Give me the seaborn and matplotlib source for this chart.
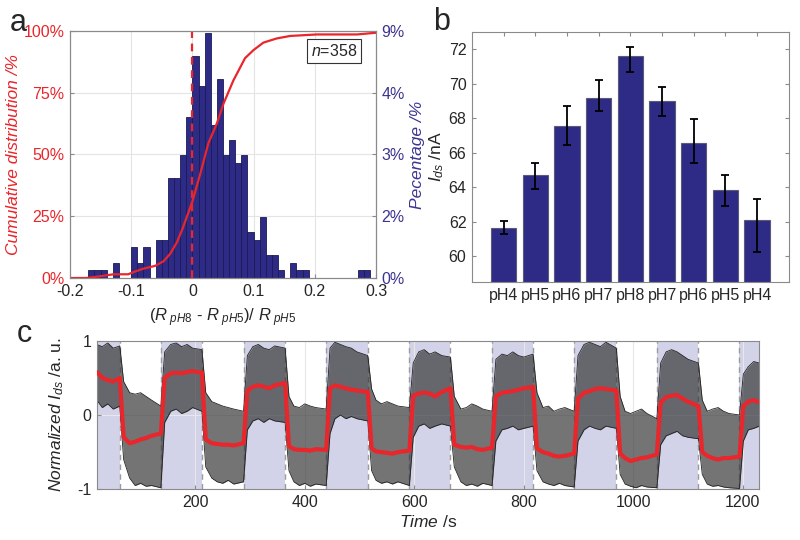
import numpy as np
import pandas as pd
import matplotlib
matplotlib.use("Agg")
import matplotlib.pyplot as plt
import seaborn as sns

# ---- panel a: histogram of (R_pH8 - R_pH5)/R_pH5 ----
n_total = 358
bin_left = np.linspace(-0.2, 0.29, 50)
counts = [0, 0, 0, 1, 1, 1, 0, 2, 0, 0,
          4, 2, 4, 0, 5, 5, 13, 13, 16, 21,
          29, 25, 32, 20, 26, 16, 18, 15, 16, 6,
          5, 8, 3, 3, 1, 0, 2, 1, 1, 0,
          0, 0, 0, 0, 0, 0, 0, 1, 1, 0]
cdf_x = [-0.2, -0.173, -0.151, -0.129, -0.105, -0.096, -0.08, -0.061, -0.047, -0.036,
         -0.025, -0.015, 0.0, 0.013, 0.026, 0.04, 0.051, 0.067, 0.086, 0.1,
         0.116, 0.138, 0.16, 0.203, 0.269, 0.3]
cdf_y = [0, 0, 0.7, 1.5, 1.5, 2.4, 3.8, 4.9, 6.8, 9.9,
         14.6, 20.7, 31.0, 42.3, 54.5, 62.6, 70.7, 80.0, 89.0, 92.3,
         95.3, 97.0, 98.0, 98.6, 98.6, 99.3]

# ---- panel b: I_ds at each pH step ----
ph_labels = ['pH4', 'pH5', 'pH6', 'pH7', 'pH8', 'pH7', 'pH6', 'pH5', 'pH4']
ids_mean = [61.63, 64.68, 67.52, 69.18, 71.58, 68.99, 66.56, 63.85, 62.08]
ids_low = [61.27, 63.89, 66.44, 68.41, 70.67, 68.14, 65.40, 62.89, 60.24]
ids_high = [62.04, 65.38, 68.68, 70.19, 72.15, 69.78, 67.93, 64.72, 63.29]

# ---- panel c: normalized I_ds vs time ----
shade_start = [20, 137, 288, 439, 591, 742, 892, 1043, 1194]
shade_end = [62, 212, 364, 515, 666, 817, 969, 1119, 1230]
time_s = [20, 30, 40, 50, 62,
          69, 80, 90, 100, 110, 120, 137,
          144, 155, 165, 175, 185, 195, 212,
          219, 230, 240, 250, 260, 270, 288,
          295, 305, 315, 325, 335, 345, 364,
          371, 380, 390, 400, 410, 420, 439,
          446, 455, 465, 475, 485, 495, 515,
          522, 530, 540, 550, 560, 570, 591,
          598, 608, 618, 628, 638, 650, 666,
          673, 685, 695, 705, 715, 725, 742,
          749, 760, 770, 780, 790, 800, 817,
          824, 835, 845, 855, 865, 875, 892,
          899, 910, 920, 930, 940, 950, 969,
          976, 985, 995, 1005, 1015, 1025, 1043,
          1050, 1060, 1070, 1080, 1090, 1100, 1119,
          1126, 1135, 1145, 1155, 1165, 1175, 1194,
          1201, 1210, 1220, 1230]
mean_norm = [0.58, 0.50, 0.47, 0.45, 0.50,
             -0.30, -0.38, -0.36, -0.33, -0.31, -0.28, -0.25,
             0.50, 0.56, 0.57, 0.56, 0.58, 0.59, 0.57,
             -0.33, -0.38, -0.39, -0.40, -0.40, -0.41, -0.38,
             0.33, 0.38, 0.40, 0.38, 0.36, 0.40, 0.43,
             -0.42, -0.46, -0.47, -0.47, -0.48, -0.46, -0.47,
             0.36, 0.40, 0.38, 0.36, 0.34, 0.33, 0.31,
             -0.45, -0.49, -0.50, -0.51, -0.52, -0.50, -0.48,
             0.26, 0.29, 0.30, 0.29, 0.25, 0.31, 0.36,
             -0.40, -0.43, -0.44, -0.43, -0.46, -0.47, -0.44,
             0.25, 0.30, 0.31, 0.32, 0.34, 0.36, 0.38,
             -0.45, -0.50, -0.52, -0.55, -0.56, -0.55, -0.52,
             0.22, 0.30, 0.32, 0.35, 0.36, 0.35, 0.33,
             -0.52, -0.58, -0.62, -0.60, -0.58, -0.57, -0.53,
             0.17, 0.24, 0.26, 0.27, 0.22, 0.18, 0.12,
             -0.50, -0.55, -0.58, -0.60, -0.58, -0.58, -0.56,
             0.12, 0.18, 0.20, 0.17]
trace_upper = [0.95, 0.92, 0.97, 0.90, 0.93,
               0.45, 0.30, 0.28, 0.30, 0.25, 0.20, 0.12,
               0.85, 0.95, 0.97, 0.92, 0.95, 0.90, 0.88,
               0.30, 0.18, 0.15, 0.12, 0.10, 0.08, 0.05,
               0.80, 0.92, 0.95, 0.90, 0.88, 0.93, 0.90,
               0.25, 0.12, 0.10, 0.15, 0.12, 0.10, 0.08,
               0.90, 0.98, 0.95, 0.92, 0.90, 0.85, 0.80,
               0.35, 0.20, 0.15, 0.18, 0.15, 0.12, 0.10,
               0.70, 0.85, 0.88, 0.82, 0.85, 0.80, 0.78,
               0.25, 0.08, 0.10, 0.15, 0.12, 0.08, 0.05,
               0.75, 0.82, 0.80, 0.85, 0.80, 0.78, 0.82,
               0.30, 0.10, 0.12, 0.05, 0.08, 0.10, 0.05,
               0.80, 0.95, 0.98, 0.95, 0.92, 0.98, 0.90,
               0.25, 0.05, 0.02, 0.05, 0.08, 0.02, -0.05,
               0.70, 0.85, 0.88, 0.85, 0.80, 0.75, 0.70,
               0.20, 0.05, 0.08, 0.10, 0.05, 0.02, 0.00,
               0.55, 0.65, 0.72, 0.70]
trace_lower = [0.20, 0.10, 0.15, 0.08, 0.12,
               -0.60, -0.85, -0.95, -0.92, -0.96, -0.95, -0.98,
               -0.10, 0.05, 0.08, 0.02, 0.05, 0.10, 0.05,
               -0.70, -0.85, -0.90, -0.92, -0.88, -0.93, -0.90,
               -0.20, -0.08, -0.05, -0.10, -0.05, -0.08, -0.10,
               -0.75, -0.90, -0.95, -0.92, -0.96, -0.93, -0.95,
               -0.25, -0.05, 0.00, -0.05, -0.02, -0.05, -0.08,
               -0.75, -0.88, -0.92, -0.90, -0.93, -0.90, -0.95,
               -0.30, -0.15, -0.12, -0.18, -0.15, -0.12, -0.15,
               -0.70, -0.90, -0.95, -0.93, -0.96, -0.92, -0.95,
               -0.35, -0.20, -0.18, -0.15, -0.20, -0.18, -0.15,
               -0.75, -0.90, -0.93, -0.95, -0.92, -0.95, -0.97,
               -0.35, -0.20, -0.15, -0.18, -0.20, -0.15, -0.18,
               -0.80, -0.93, -0.96, -0.98, -0.95, -0.97, -0.98,
               -0.40, -0.28, -0.25, -0.22, -0.28, -0.30, -0.32,
               -0.80, -0.93, -0.96, -0.95, -0.97, -0.98, -0.99,
               -0.35, -0.20, -0.18, -0.15]

sns.set_style("ticks")
plt.rcParams['font.family'] = ['Liberation Sans', 'DejaVu Sans']
plt.rcParams['mathtext.fontset'] = 'custom'
plt.rcParams['mathtext.rm'] = 'Liberation Sans'
plt.rcParams['mathtext.it'] = 'Liberation Sans:italic'
plt.rcParams['axes.unicode_minus'] = False

red = '#e8262b'
navy = '#2e2b86'
navy_txt = '#3b3591'
spine = '#8a8a8a'
gridc = '#e4e4e4'
fs = 11.5

fig = plt.figure(figsize=(8, 5.4), dpi=100)

# ============ panel a ============
ax_h = fig.add_axes([0.0875, 0.4852, 0.3825, 0.4574])
hist_df = pd.DataFrame({'x': bin_left + 0.005, 'pct': np.array(counts) / n_total * 100})
sns.histplot(data=hist_df, x='x', weights='pct', bins=50, binrange=(-0.2, 0.3),
             color=navy, edgecolor='#1c1a55', linewidth=0.6, alpha=1, ax=ax_h)
ax_h.set_xlim(-0.2, 0.3)
ax_h.set_ylim(0, 9)
ax_h.set_xticks([-0.2, -0.1, 0, 0.1, 0.2, 0.3])
ax_h.set_xticklabels(['-0.2', '-0.1', '0', '0.1', '0.2', '0.3'])
ax_h.set_yticks([0, 2.25, 4.5, 6.75, 9])
ax_h.set_yticklabels(['0%', '2%', '3%', '4%', '9%'], color=navy_txt)
ax_h.set_xlabel(r'$(R_{\ pH8}$ - $R_{\ pH5})/\ R_{\ pH5}$', fontsize=12, labelpad=6)
ax_h.set_axisbelow(True)
ax_h.grid(True, color=gridc, lw=0.8)

ax_cdf = ax_h.twinx()
# twinx moves the original ticks to the left, so swap them afterwards
ax_h.yaxis.tick_right()
ax_h.yaxis.set_label_position('right')
ax_h.set_ylabel('Pecentage /%', color=navy_txt, fontsize=12.5, style='italic', labelpad=4)
ax_h.tick_params(direction='in', labelsize=fs, length=3, color=spine, pad=4)
ax_cdf.yaxis.tick_left()
ax_cdf.yaxis.set_label_position('left')
sns.lineplot(x=cdf_x, y=cdf_y, color=red, lw=1.6, ax=ax_cdf)
ax_cdf.plot([0, 0], [0, 100], color=red, lw=1.6, ls='--', dashes=(3.5, 2.5))
ax_cdf.set_ylim(0, 100)
ax_cdf.set_yticks([0, 25, 50, 75, 100])
ax_cdf.set_yticklabels(['0%', '25%', '50%', '75%', '100%'], color=red)
ax_cdf.set_ylabel('Cumulative distribution /%', color=red, fontsize=12.5,
                  style='italic', labelpad=2)
ax_cdf.tick_params(direction='in', labelsize=fs, length=3, color=spine, pad=4)
ax_cdf.text(0.862, 0.92, r'$n$=358', transform=ax_cdf.transAxes, ha='center',
            va='center', fontsize=11.5,
            bbox=dict(boxstyle='square,pad=0.25', fc='white', ec='#333333', lw=0.8))
for a in (ax_h, ax_cdf):
    for s in a.spines.values():
        s.set_color(spine)

# ============ panel b ============
ax_b = fig.add_axes([0.59, 0.4778, 0.396, 0.463])
pos = list(range(len(ph_labels)))
sns.barplot(x=pos, y=ids_mean, color=navy, saturation=1, width=0.8,
            edgecolor='#5b5b78', linewidth=0.8, ax=ax_b)
m = np.array(ids_mean)
ax_b.errorbar(pos, m, yerr=[m - np.array(ids_low), np.array(ids_high) - m],
              fmt='none', ecolor='black', elinewidth=1.3, capsize=3, capthick=1.3)
ax_b.set_xlim(-1, 9)
ax_b.set_ylim(58.5, 73)
ax_b.set_yticks([60, 62, 64, 66, 68, 70, 72])
ax_b.set_xticks(pos)
ax_b.set_xticklabels(ph_labels)
ax_b.set_ylabel(r'$I_{ds}$ /nA', fontsize=12.5, labelpad=2)
ax_b.tick_params(direction='in', labelsize=fs, length=3, color=spine,
                 top=True, right=True, pad=4)
for s in ax_b.spines.values():
    s.set_visible(True)
    s.set_color(spine)

# ============ panel c ============
ax_c = fig.add_axes([0.121, 0.094, 0.828, 0.275])
for s0, s1 in zip(shade_start, shade_end):
    ax_c.axvspan(s0, s1, color='#d2d2e9', lw=0, zorder=0.2)
for tb in shade_start[1:] + shade_end[:-1]:
    ax_c.axvline(tb, color='#9c9c9c', lw=1, ls='--', dashes=(4, 3), zorder=0.6)
ax_c.set_axisbelow(True)
ax_c.grid(True, color='#e8e8e8', lw=0.8)
ax_c.fill_between(time_s, trace_lower, trace_upper, color='#333333', alpha=0.68,
                  lw=0, zorder=2)
ax_c.plot(time_s, trace_upper, color='#222222', lw=0.6, zorder=2.1)
ax_c.plot(time_s, trace_lower, color='#222222', lw=0.6, zorder=2.1)
sns.lineplot(x=time_s, y=mean_norm, color=red, lw=3, ax=ax_c, zorder=3)
ax_c.set_xlim(20, 1230)
ax_c.set_ylim(-1, 1)
ax_c.set_xticks([200, 400, 600, 800, 1000, 1200])
ax_c.set_yticks([-1, 0, 1])
ax_c.set_yticklabels(['-1', '0', '1'])
ax_c.set_xlabel(r'$Time$ /s', fontsize=12.5, labelpad=3)
ax_c.set_ylabel(r'$Normalized\ I_{ds}$ /a. u.', fontsize=12.5, labelpad=8)
ax_c.tick_params(direction='in', labelsize=fs, length=3, color=spine, pad=4)
for s in ax_c.spines.values():
    s.set_visible(True)
    s.set_color(spine)

fig.text(0.012, 0.943, 'a', fontsize=22, va='baseline')
fig.text(0.541, 0.944, 'b', fontsize=22, va='baseline')
fig.text(0.021, 0.367, 'c', fontsize=22, va='baseline')

fig.savefig('out.png', dpi=100)
